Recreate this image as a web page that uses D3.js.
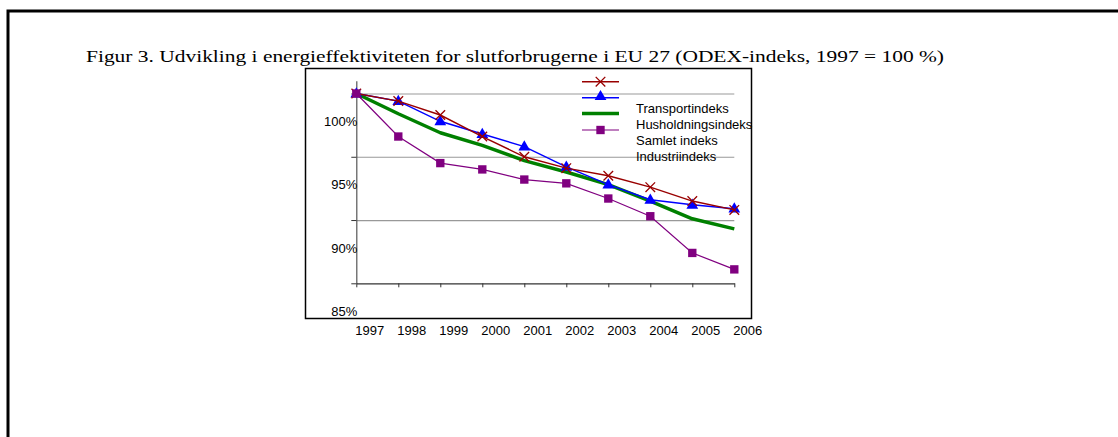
<!DOCTYPE html>
<html><head><meta charset="utf-8">
<script src="https://cdn.jsdelivr.net/npm/d3@7"></script>
<style>
html,body{margin:0;padding:0;background:#fff;}
svg{display:block;}
text{font-family:"Liberation Sans",Arial,sans-serif;}
</style></head>
<body>
<svg id="c" width="1118" height="437"></svg>
<script>
const title = "Figur 3. Udvikling i energieffektiviteten for slutforbrugerne i EU 27 (ODEX-indeks, 1997 = 100 %)";
const years = ["1997","1998","1999","2000","2001","2002","2003","2004","2005","2006"];
const yTicks = [85, 90, 95, 100];
const gridValues = [90, 95, 100];
const transport   = [100, 99.4, 98.3, 96.6, 95.0, 94.1, 93.5, 92.6, 91.5, 90.8];
const husholdning = [100, 99.4, 97.8, 96.8, 95.8, 94.2, 92.8, 91.6, 91.2, 90.9];
const samlet      = [100, 98.4, 96.9, 95.9, 94.7, 93.8, 92.8, 91.5, 90.1, 89.3];
const industri    = [100, 96.6, 94.5, 94.0, 93.2, 92.9, 91.7, 90.3, 87.4, 86.1];
const seriesNames = ["Transportindeks","Husholdningsindeks","Samlet indeks","Industriindeks"];

const svg = d3.select("#c");

// outer frame
svg.append("path").attr("d","M8,437V11H1118").attr("fill","none").attr("stroke","#000").attr("stroke-width",3);

// title
svg.append("text").attr("x",86).attr("y",62)
  .style("font-family",'"Liberation Serif","Times New Roman",serif')
  .style("font-size","17px").attr("fill","#000")
  .attr("textLength",858).attr("lengthAdjust","spacingAndGlyphs")
  .text(title);

// chart box
svg.append("rect").attr("x",305.5).attr("y",68.5).attr("width",446).attr("height",250)
  .attr("fill","#fff").attr("stroke","#000").attr("stroke-width",1.5);

const x = d3.scalePoint().domain(years).range([356.3, 734.3]);
const y = d3.scaleLinear().domain([85, 101]).range([283.3, 80.85]);

// gridlines
const grid = svg.append("g").attr("transform","translate(356.3,0)")
  .call(d3.axisLeft(y).tickValues(gridValues).tickSize(-378).tickFormat(""));
grid.select(".domain").remove();
grid.selectAll(".tick line").attr("stroke","#999").attr("stroke-width",1.2);

// y axis
const ya = svg.append("g").attr("transform","translate(356.3,0)")
  .call(d3.axisLeft(y).tickValues(yTicks).tickSize(5).tickSizeOuter(0).tickFormat(d => d + "%"));
ya.select(".domain").attr("stroke","#555").attr("stroke-width",1.2);
ya.selectAll(".tick line").attr("stroke","#333");
ya.selectAll(".tick text").attr("x",1).attr("dy","0.32em")
  .attr("transform","translate(0,28)")
  .style("font-size","13px").style("font-family",'"Liberation Sans",Arial,sans-serif').attr("fill","#000");

// x axis
const xa = svg.append("g").attr("transform",`translate(0,${y(85)})`)
  .call(d3.axisBottom(x).tickSize(4).tickSizeOuter(0));
xa.select(".domain").attr("stroke","#333").attr("stroke-width",1.2);
xa.selectAll(".tick line").attr("stroke","#333");
xa.selectAll(".tick text").attr("y",0).attr("dy","0").attr("transform","translate(13,52)")
  .style("font-size","13px").style("font-family",'"Liberation Sans",Arial,sans-serif').attr("fill","#000");

const line = d3.line().x((d,i) => x(years[i])).y(d => y(d));

const tri = d3.symbol().type(d3.symbolTriangle).size(60);
const sq = d3.symbol().type(d3.symbolSquare).size(70);

function drawX(g, cx, cy, col){
  const s = 4.8;
  g.append("path").attr("d",`M${cx-s},${cy-s}L${cx+s},${cy+s}M${cx-s},${cy+s}L${cx+s},${cy-s}`)
    .attr("stroke",col).attr("stroke-width",1.3).attr("fill","none");
}

// samlet (green)
svg.append("path").datum(samlet).attr("d",line).attr("fill","none").attr("stroke","#008000").attr("stroke-width",3.5).attr("stroke-linejoin","round");

// husholdning (blue triangles)
svg.append("path").datum(husholdning).attr("d",line).attr("fill","none").attr("stroke","#0000ff").attr("stroke-width",1.5);
svg.append("g").selectAll("path").data(husholdning).join("path")
  .attr("d",tri).attr("fill","#0000ff")
  .attr("transform",(d,i)=>`translate(${x(years[i])},${y(d)+0.5})`);

// transport (dark red X)
svg.append("path").datum(transport).attr("d",line).attr("fill","none").attr("stroke","#990000").attr("stroke-width",1.4);
const tg = svg.append("g");
transport.forEach((d,i)=>drawX(tg, x(years[i]), y(d), "#990000"));

// industri (purple squares)
svg.append("path").datum(industri).attr("d",line).attr("fill","none").attr("stroke","#800080").attr("stroke-width",1.2);
svg.append("g").selectAll("path").data(industri).join("path")
  .attr("d",sq).attr("fill","#800080")
  .attr("transform",(d,i)=>`translate(${x(years[i])},${y(d)})`);

// legend
const lx0 = 582, lx1 = 619, lxm = 600.5;
const ly = [81.7, 97.7, 113.5, 130];
const lg = svg.append("g");
lg.append("line").attr("x1",lx0).attr("x2",lx1).attr("y1",ly[0]).attr("y2",ly[0]).attr("stroke","#990000").attr("stroke-width",1.4);
drawX(lg, lxm, ly[0], "#990000");
lg.append("line").attr("x1",lx0).attr("x2",lx1).attr("y1",ly[1]).attr("y2",ly[1]).attr("stroke","#0000ff").attr("stroke-width",1.5);
lg.append("path").attr("d",tri).attr("fill","#0000ff").attr("transform",`translate(${lxm},${ly[1]-1})`);
lg.append("line").attr("x1",lx0).attr("x2",lx1).attr("y1",ly[2]).attr("y2",ly[2]).attr("stroke","#008000").attr("stroke-width",3.5);
lg.append("line").attr("x1",lx0).attr("x2",lx1).attr("y1",ly[3]).attr("y2",ly[3]).attr("stroke","#800080").attr("stroke-width",1.2);
lg.append("path").attr("d",sq).attr("fill","#800080").attr("transform",`translate(${lxm},${ly[3]})`);
lg.selectAll("text.lbl").data(seriesNames).join("text").attr("class","lbl")
  .attr("x",636).attr("y",(d,i)=>108 + i*16.1).attr("dy","0.35em")
  .style("font-size","13px").attr("fill","#000").text(d=>d);
</script>
</body></html>
